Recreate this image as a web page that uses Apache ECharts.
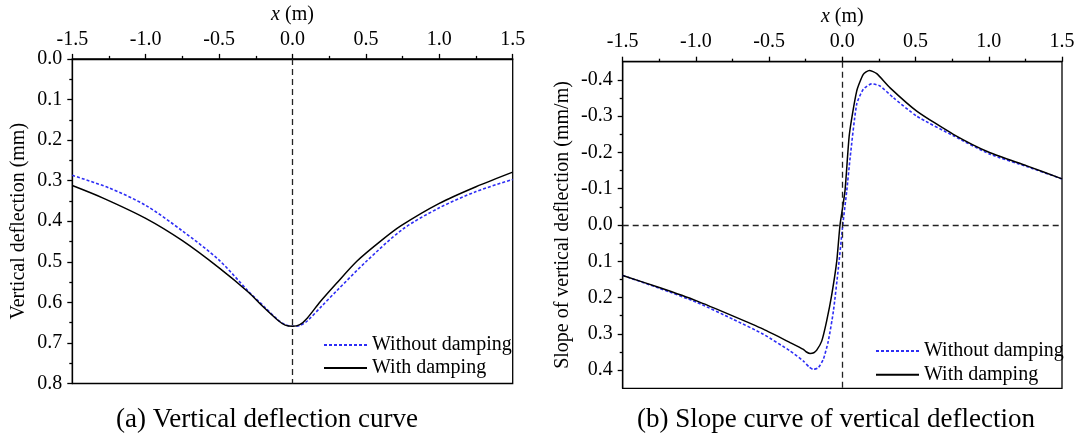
<!DOCTYPE html>
<html><head><meta charset="utf-8">
<script src="https://cdn.jsdelivr.net/npm/echarts@6/dist/echarts.min.js"></script>
<style>html,body{margin:0;padding:0;background:#fff}#c{width:1083px;height:434px}</style>
</head><body><div id="c"></div>
<script>
// ---------- Panel (a): vertical deflection (mm) ----------
const deflXWithout = [-1.5, -1.25, -1.0, -0.75, -0.5, -0.3, -0.2, -0.1, -0.05, 0, 0.05, 0.1, 0.2, 0.3, 0.5, 0.75, 1.0, 1.25, 1.5];
const deflWithout  = [0.287, 0.318, 0.361, 0.424, 0.496, 0.573, 0.608, 0.643, 0.655, 0.659, 0.657, 0.646, 0.609, 0.572, 0.500, 0.420, 0.367, 0.327, 0.297];
const deflXWith    = [-1.5, -1.29, -1.0, -0.75, -0.5, -0.3, -0.2, -0.1, -0.05, 0, 0.05, 0.1, 0.19, 0.3, 0.44, 0.6, 0.74, 1.0, 1.25, 1.5];
const deflWith     = [0.312, 0.343, 0.393, 0.448, 0.515, 0.575, 0.611, 0.644, 0.656, 0.659, 0.655, 0.639, 0.598, 0.553, 0.498, 0.449, 0.411, 0.356, 0.315, 0.279];

// ---------- Panel (b): slope of vertical deflection (mm/m) ----------
const slopeXWithout = [-1.5, -1.245, -0.995, -0.745, -0.54, -0.357, -0.266, -0.225, -0.198, -0.164, -0.13, -0.096, -0.061, -0.027, 0.003, 0.03, 0.053, 0.098, 0.143, 0.2, 0.257, 0.348, 0.508, 0.758, 1.009, 1.26, 1.5];
const slopeWithout  = [0.139, 0.175, 0.213, 0.260, 0.301, 0.347, 0.375, 0.392, 0.398, 0.393, 0.370, 0.320, 0.237, 0.118, 0.0, -0.094, -0.185, -0.333, -0.374, -0.389, -0.383, -0.351, -0.300, -0.246, -0.195, -0.161, -0.127];
const slopeXWith    = [-1.5, -1.245, -0.995, -0.745, -0.54, -0.357, -0.266, -0.245, -0.22, -0.195, -0.175, -0.141, -0.107, -0.072, -0.038, -0.016, 0.018, 0.048, 0.098, 0.143, 0.184, 0.235, 0.326, 0.508, 0.758, 1.009, 1.26, 1.5];
const slopeWith     = [0.139, 0.173, 0.209, 0.251, 0.287, 0.324, 0.343, 0.350, 0.354, 0.352, 0.345, 0.320, 0.264, 0.191, 0.099, 0.0, -0.094, -0.25, -0.369, -0.415, -0.426, -0.417, -0.378, -0.314, -0.250, -0.199, -0.163, -0.127];

const slopeMajorTicks = [-0.4, -0.3, -0.2, -0.1, 0.0, 0.1, 0.2, 0.3, 0.4];
const slopeMinorTicks = [-0.35, -0.25, -0.15, -0.05, 0.05, 0.15, 0.25, 0.35];

const names = ['Without damping', 'With damping'];
const captions = ['(a) Vertical deflection curve', '(b) Slope curve of vertical deflection'];
const yNames = ['Vertical deflection (mm)', 'Slope of vertical deflection (mm/m)'];

const FONT = "'Liberation Serif', 'Times New Roman', serif";
const zip = (xs, ys) => xs.map((x, i) => [x, ys[i]]);
const fmt1 = v => (Math.abs(v) < 1e-9 ? 0 : v).toFixed(1);

const chart = echarts.init(document.getElementById('c'), null, {renderer: 'canvas'});

const axisLineStyle = {show: true, onZero: false, lineStyle: {color: '#000', width: 1.3}};

function xTop(gridIndex, nameGap, labelMargin) {
  return {
    type: 'value', gridIndex, position: 'top', min: -1.5, max: 1.5, interval: 0.5,
    name: '{i|x} (m)', nameLocation: 'middle', nameGap,
    nameTextStyle: {fontFamily: FONT, fontSize: 20, color: '#000',
      rich: {i: {fontFamily: FONT, fontSize: 20, fontStyle: 'italic', color: '#000'}}},
    axisLine: axisLineStyle,
    axisTick: {show: true, inside: false, length: 5, lineStyle: {color: '#000', width: 1.3}},
    minorTick: {show: true, splitNumber: 2, length: 3, lineStyle: {color: '#000', width: 1.3}},
    axisLabel: {fontFamily: FONT, fontSize: 20, color: '#000', margin: labelMargin, formatter: fmt1},
    splitLine: {show: false}
  };
}

const lineBlue = {color: '#2d2df5', width: 1.6, type: [3, 2]};
const lineBlack = {color: '#000', width: 1.5, type: 'solid'};
const refLine = {color: '#222', width: 1.3, type: [6, 4]};

chart.setOption({
  animation: false,
  backgroundColor: '#fff',
  grid: [
    {left: 72.3, top: 58, width: 440.4, height: 325.5, show: true, borderColor: '#000', borderWidth: 1.3},
    {left: 622.7, top: 61.7, width: 439.3, height: 326.6, show: true, borderColor: '#000', borderWidth: 1.3}
  ],
  xAxis: [xTop(0, 31, 9), xTop(1, 32, 10)],
  yAxis: [
    {
      type: 'value', gridIndex: 0, position: 'left', min: 0, max: 0.8, interval: 0.1, inverse: true,
      name: yNames[0], nameLocation: 'middle', nameGap: 44, nameRotate: 90,
      nameTextStyle: {fontFamily: FONT, fontSize: 20, color: '#000'},
      axisLine: axisLineStyle,
      axisTick: {show: true, inside: false, length: 5, lineStyle: {color: '#000', width: 1.3}},
      minorTick: {show: true, splitNumber: 2, length: 3, lineStyle: {color: '#000', width: 1.3}},
      axisLabel: {fontFamily: FONT, fontSize: 20, color: '#000', margin: 10, formatter: fmt1},
      splitLine: {show: false}
    },
    {
      type: 'value', gridIndex: 1, position: 'left', min: -0.45, max: 0.45, inverse: true,
      name: yNames[1], nameLocation: 'middle', nameGap: 50, nameRotate: 90,
      nameTextStyle: {fontFamily: FONT, fontSize: 20, color: '#000'},
      axisLine: axisLineStyle,
      axisTick: {show: true, inside: false, length: 5, customValues: slopeMajorTicks, lineStyle: {color: '#000', width: 1.3}},
      axisLabel: {fontFamily: FONT, fontSize: 20, color: '#000', margin: 10, customValues: slopeMajorTicks, formatter: fmt1},
      splitLine: {show: false}
    },
    {
      type: 'value', gridIndex: 1, position: 'left', offset: 0, min: -0.45, max: 0.45, inverse: true,
      axisLine: {show: false, onZero: false},
      axisTick: {show: true, inside: false, length: 3, customValues: slopeMinorTicks, lineStyle: {color: '#000', width: 1.3}},
      axisLabel: {show: false},
      splitLine: {show: false}
    }
  ],
  legend: [
    {left: 318, top: 330, orient: 'vertical', itemWidth: 43, itemHeight: 14, itemGap: 3,
      itemStyle: {opacity: 0},
      data: names, textStyle: {fontFamily: FONT, fontSize: 20, color: '#000'}, selectedMode: false},
    {left: 870, top: 336, orient: 'vertical', itemWidth: 43, itemHeight: 14, itemGap: 3.7,
      itemStyle: {opacity: 0},
      data: names, textStyle: {fontFamily: FONT, fontSize: 20, color: '#000'}, selectedMode: false}
  ],
  series: [
    {name: names[0], type: 'line', xAxisIndex: 0, yAxisIndex: 0, data: zip(deflXWithout, deflWithout),
      symbol: 'none', smooth: 0.3, lineStyle: lineBlue, itemStyle: {color: lineBlue.color}, z: 3},
    {name: names[1], type: 'line', xAxisIndex: 0, yAxisIndex: 0, data: zip(deflXWith, deflWith),
      symbol: 'none', smooth: 0.3, lineStyle: lineBlack, itemStyle: {color: '#000'}, z: 4,
      markLine: {silent: true, symbol: 'none', label: {show: false}, lineStyle: refLine, data: [{xAxis: 0}]}},
    {name: names[0], type: 'line', xAxisIndex: 1, yAxisIndex: 1, data: zip(slopeXWithout, slopeWithout),
      symbol: 'none', smooth: 0.2, lineStyle: lineBlue, itemStyle: {color: lineBlue.color}, z: 3},
    {name: names[1], type: 'line', xAxisIndex: 1, yAxisIndex: 1, data: zip(slopeXWith, slopeWith),
      symbol: 'none', smooth: 0.2, lineStyle: lineBlack, itemStyle: {color: '#000'}, z: 4,
      markLine: {silent: true, symbol: 'none', label: {show: false}, lineStyle: refLine, data: [{xAxis: 0}, {yAxis: 0}]}}
  ],
  graphic: [
    {type: 'text', x: 267, y: 420, style: {text: captions[0], fontFamily: FONT, fontSize: 27, fill: '#000', align: 'center', verticalAlign: 'middle'}},
    {type: 'text', x: 836, y: 420, style: {text: captions[1], fontFamily: FONT, fontSize: 27, fill: '#000', align: 'center', verticalAlign: 'middle'}}
  ]
});
</script>
</body></html>
